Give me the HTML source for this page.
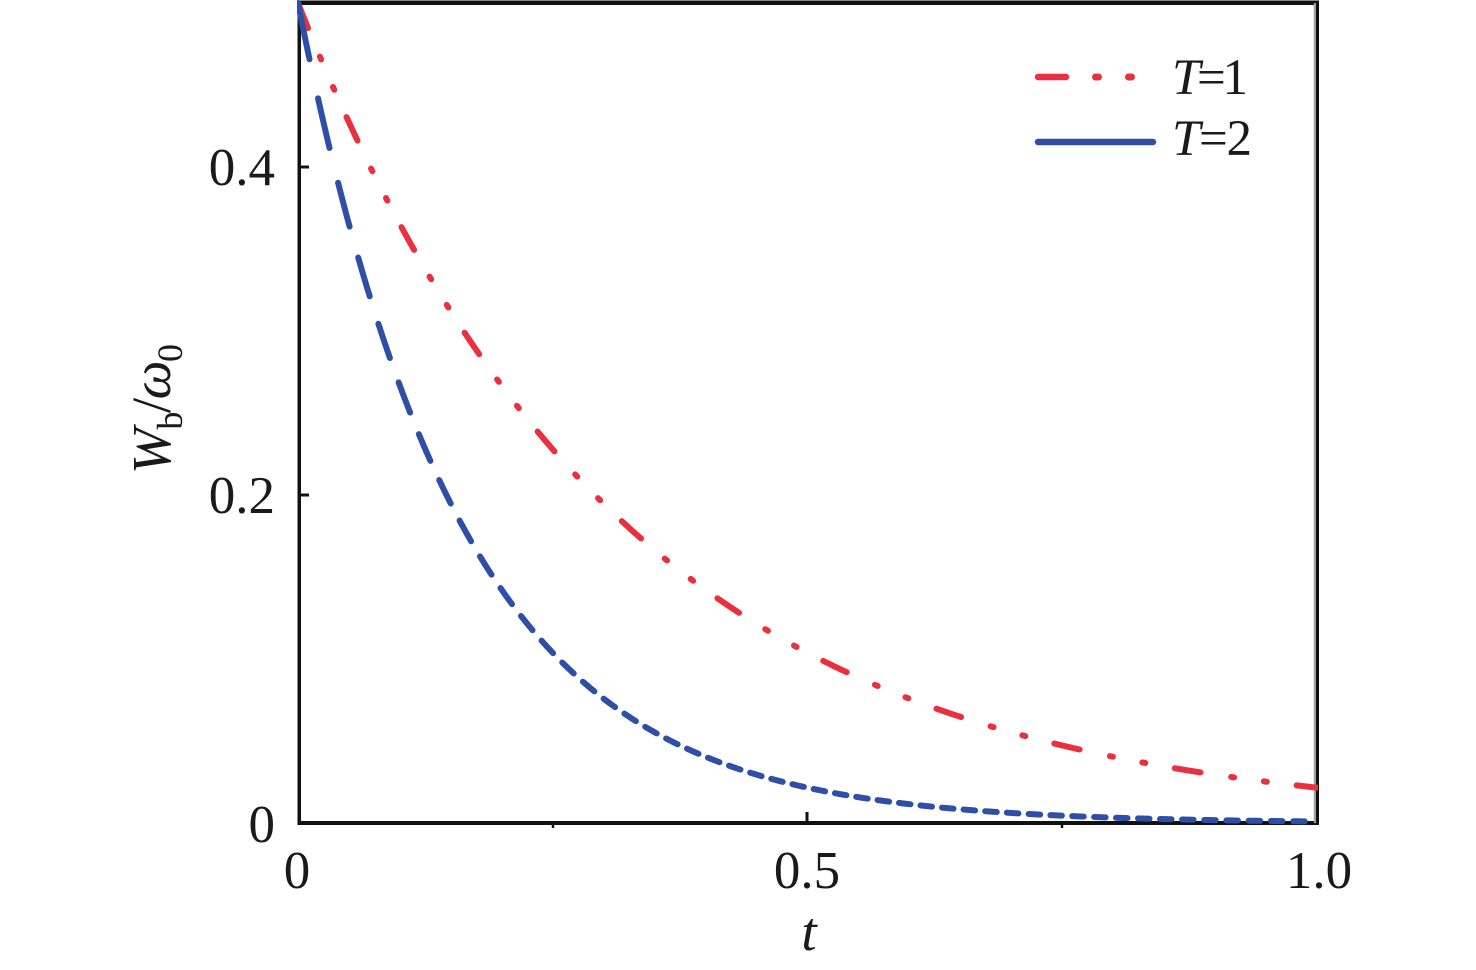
<!DOCTYPE html>
<html>
<head>
<meta charset="utf-8">
<style>
  html,body{margin:0;padding:0;background:#fff;}
  body{width:1476px;height:970px;overflow:hidden;}
  svg{display:block;}
  text{font-family:"Liberation Serif","DejaVu Serif",serif;fill:#1a1a1a;}
</style>
</head>
<body>
<svg id="chart" width="1476" height="970" viewBox="0 0 1476 970" xmlns="http://www.w3.org/2000/svg">
  <defs>
    <clipPath id="plotclip">
      <rect x="297" y="0" width="1021" height="826"/>
    </clipPath>
  </defs>
  <rect x="0" y="0" width="1476" height="970" fill="#fff"/>

  <!-- frame -->
  <rect x="297.5" y="0.5" width="3.5" height="824.5" fill="#111"/>
  <rect x="297.5" y="0.5" width="1021.5" height="4.5" fill="#111"/>
  <rect x="297.5" y="821" width="1021.5" height="4" fill="#111"/>
  <rect x="1313.8" y="3" width="2.2" height="820" fill="#a39e9e"/>
  <rect x="1316" y="0.5" width="3" height="824.5" fill="#111"/>

  <!-- ticks -->
  <line x1="300" y1="167" x2="309" y2="167" stroke="#111" stroke-width="3"/>
  <line x1="300" y1="495" x2="309" y2="495" stroke="#111" stroke-width="3"/>
  <line x1="807" y1="823" x2="807" y2="812" stroke="#111" stroke-width="3"/>
  <line x1="553" y1="824" x2="553" y2="828" stroke="#111" stroke-width="2.5"/>
  <line x1="1062" y1="824" x2="1062" y2="828" stroke="#111" stroke-width="2.5"/>

  <!-- curves -->
  <g clip-path="url(#plotclip)">
    <path id="red" d="" fill="none" stroke="#e8303f" stroke-width="6" stroke-linecap="round" stroke-linejoin="round" stroke-dasharray="26 31 3 30 3 30" stroke-dashoffset="-1"/>
    <path id="blue" d="" fill="none" stroke="#2f4fa6" stroke-width="6" stroke-linecap="round" stroke-linejoin="round"/>
  </g>

  <!-- y tick labels -->
  <text x="275" y="185" font-size="53" text-anchor="end">0.4</text>
  <text x="275" y="513" font-size="53" text-anchor="end">0.2</text>
  <text x="275" y="842" font-size="53" text-anchor="end">0</text>

  <!-- x tick labels -->
  <text x="297" y="888" font-size="53" text-anchor="middle">0</text>
  <text x="807" y="888" font-size="53" text-anchor="middle">0.5</text>
  <text x="1319" y="888" font-size="53" text-anchor="middle">1.0</text>

  <!-- axis titles -->
  <text x="809" y="950" font-size="55" font-style="italic" text-anchor="middle">t</text>
  <text transform="translate(170,474) rotate(-90)" x="0" y="0" font-size="55" textLength="130" lengthAdjust="spacing"><tspan font-style="italic">W</tspan><tspan font-size="36" dy="12">b</tspan><tspan dy="-12">/</tspan><tspan font-style="italic">ω</tspan><tspan font-size="36" dy="12">0</tspan></text>

  <!-- legend -->
  <line x1="1038" y1="77" x2="1066" y2="77" stroke="#e8303f" stroke-width="6.5" stroke-linecap="round"/>
  <line x1="1095.5" y1="77" x2="1098.5" y2="77" stroke="#e8303f" stroke-width="7" stroke-linecap="round"/>
  <line x1="1128.5" y1="77" x2="1131.5" y2="77" stroke="#e8303f" stroke-width="7" stroke-linecap="round"/>
  <line x1="1038" y1="142" x2="1153" y2="142" stroke="#2f4fa6" stroke-width="6.5" stroke-linecap="round"/>
  <text x="1172" y="94" font-size="51" textLength="76" lengthAdjust="spacing"><tspan font-style="italic">T</tspan>=1</text>
  <text x="1172" y="155" font-size="51" textLength="80" lengthAdjust="spacing"><tspan font-style="italic">T</tspan>=2</text>
</svg>
<script>
(function(){
  var X0=298, XW=1018, Y0=823, YS=1640;
  function yOf(x,k){var t=(x-X0)/XW;return Y0-YS*0.5*Math.exp(-k*Math.PI*t);}
  var d="M"+X0+","+yOf(X0,1).toFixed(2);
  for(var x=X0+0.5;x<=1317;x+=0.5){d+="L"+x.toFixed(2)+","+yOf(x,1).toFixed(2);}
  document.getElementById("red").setAttribute("d",d);
  var b="";
  for(var k=0;k<80;k++){
    var s=X0+20*k+0.025*k*k;
    if(s>1314)break;
    var e=Math.min(s+11.5,1313);
    if(e<=s)break;
    b+="M"+s.toFixed(2)+","+yOf(s,2).toFixed(2);
    for(var xx=s+0.5;xx<e;xx+=0.5){b+="L"+xx.toFixed(2)+","+yOf(xx,2).toFixed(2);}
    b+="L"+e.toFixed(2)+","+yOf(e,2).toFixed(2);
  }
  document.getElementById("blue").setAttribute("d",b);
})();
</script>
</body>
</html>
